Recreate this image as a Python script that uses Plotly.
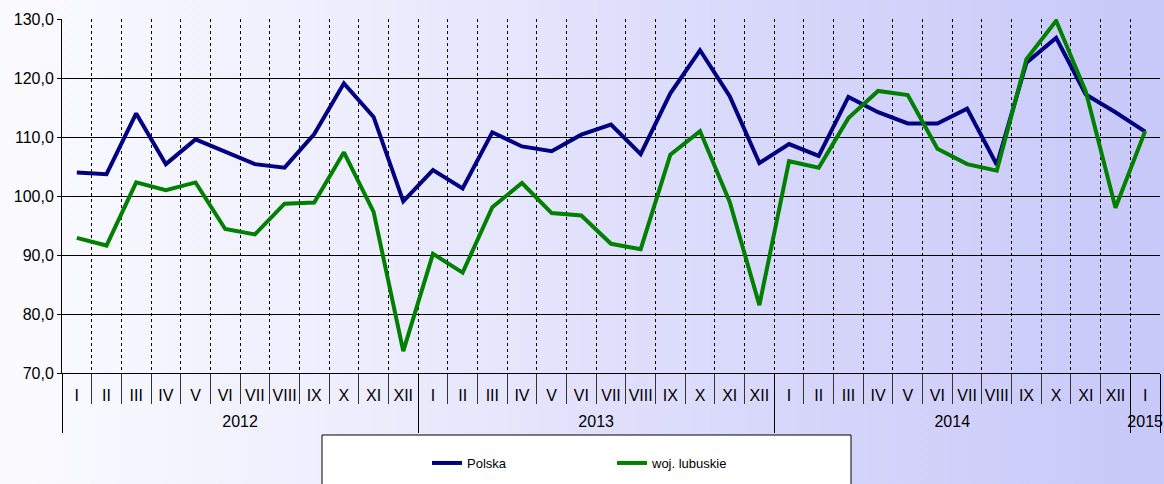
import base64
import plotly.graph_objects as go

months = ["I", "II", "III", "IV", "V", "VI", "VII", "VIII", "IX", "X", "XI", "XII"]
month_labels = months * 3 + ["I"]
years = ["2012", "2013", "2014", "2015"]
year_len = [12, 12, 12, 1]

polska = [104.0, 103.7, 114.0, 105.4, 109.6, 107.5, 105.4, 104.8, 110.5, 119.1, 113.4, 99.1,
          104.4, 101.3, 110.8, 108.4, 107.6, 110.4, 112.1, 107.1, 117.4, 124.7, 116.9, 105.6,
          108.8, 106.8, 116.8, 114.2, 112.3, 112.3, 114.8, 105.3, 122.6, 126.8, 117.2, 114.2,
          110.9]
lubuskie = [92.9, 91.6, 102.3, 101.0, 102.3, 94.4, 93.5, 98.7, 98.9, 107.4, 97.3, 73.7,
            90.2, 87.0, 98.1, 102.2, 97.1, 96.7, 91.9, 91.0, 107.0, 111.0, 99.0, 81.5,
            105.9, 104.8, 113.2, 117.8, 117.1, 108.0, 105.4, 104.3, 123.2, 129.7, 117.7, 98.0,
            111.0]

W, H = 1164, 484
x = list(range(len(month_labels)))

# year centers and boundaries on the category scale
year_mid, year_edges, pos = [], [-0.5], -0.5
for n in year_len:
    year_mid.append(pos + n / 2)
    pos += n
    year_edges.append(pos)

svg = ('<svg xmlns="http://www.w3.org/2000/svg" width="100" height="100" preserveAspectRatio="none">'
       '<defs><linearGradient id="g" x1="0" y1="0" x2="1" y2="0">'
       '<stop offset="0" stop-color="#fbfbff"/><stop offset="0.33" stop-color="#ececfd"/>'
       '<stop offset="0.65" stop-color="#d8d8fb"/><stop offset="1" stop-color="#c8c8f9"/>'
       '</linearGradient></defs><rect width="100" height="100" fill="url(#g)"/></svg>')
bg = "data:image/svg+xml;base64," + base64.b64encode(svg.encode()).decode()

fig = go.Figure()
fig.add_trace(go.Scatter(x=x, y=polska, mode="lines", name="Polska",
                         line=dict(color="#000080", width=4)))
fig.add_trace(go.Scatter(x=x, y=lubuskie, mode="lines", name="woj. lubuskie",
                         line=dict(color="#008000", width=4)))
# empty trace so the year axis gets drawn
fig.add_trace(go.Scatter(x=year_mid, y=[None] * len(year_mid), xaxis="x3", yaxis="y",
                         showlegend=False, hoverinfo="skip", mode="lines"))

font = dict(family="Liberation Sans, Arial, sans-serif", size=16, color="#000")

fig.update_layout(
    width=W, height=H,
    template="none",
    margin=dict(l=0, r=0, t=0, b=0),
    paper_bgcolor="white",
    plot_bgcolor="rgba(0,0,0,0)",
    separators=", ",
    font=font,
    showlegend=True,
    images=[dict(source=bg, xref="paper", yref="paper", x=0, y=1, sizex=1, sizey=1,
                 sizing="stretch", layer="below", xanchor="left", yanchor="top")],
    xaxis=dict(
        domain=[62 / W, 1160 / W], range=[-0.5, 36.5], anchor="y",
        tickmode="array", tickvals=x, ticktext=month_labels, ticks="",
        ticklabelstandoff=8, showgrid=False, zeroline=False,
        showline=True, linecolor="#000", linewidth=1,
        tickfont=dict(size=16), automargin=False,
        minor=dict(tickmode="array", tickvals=[i + 0.5 for i in range(-1, 37)],
                   showgrid=True, griddash="dot", gridcolor="#000", gridwidth=1,
                   ticks="outside", ticklen=30, tickcolor="#333", tickwidth=1),
    ),
    xaxis3=dict(
        overlaying="x", anchor="y", side="bottom", range=[-0.5, 36.5],
        tickmode="array", tickvals=year_mid, ticktext=years, ticks="",
        ticklabelstandoff=37, showgrid=False, zeroline=False, showline=False,
        tickfont=dict(size=16), automargin=False,
        minor=dict(tickmode="array", tickvals=year_edges, showgrid=False,
                   ticks="outside", ticklen=59, tickcolor="#000", tickwidth=1),
    ),
    yaxis=dict(
        domain=[(H - 373) / H, (H - 19) / H], range=[70, 130], dtick=10,
        tickformat=".1f", showgrid=True, gridcolor="#000", gridwidth=1,
        zeroline=False, showline=True, linecolor="#000", linewidth=1,
        ticks="outside", ticklen=4, tickcolor="#000", automargin=False,
        tickfont=dict(size=16),
    ),
    legend=dict(orientation="h", x=427 / W, xanchor="left", y=(H - 448) / H, yanchor="top",
                bgcolor="rgba(0,0,0,0)", borderwidth=0, entrywidth=140,
                font=dict(size=13)),
    shapes=[dict(type="rect", xref="paper", yref="paper", x0=322 / W, x1=851 / W,
                 y0=-0.05, y1=(H - 435) / H, fillcolor="white",
                 line=dict(color="#000", width=1), layer="above")],
)

fig.write_html("out.html", config={"displayModeBar": False},
               post_script="document.body.style.margin='0';document.body.style.overflow='hidden';")
